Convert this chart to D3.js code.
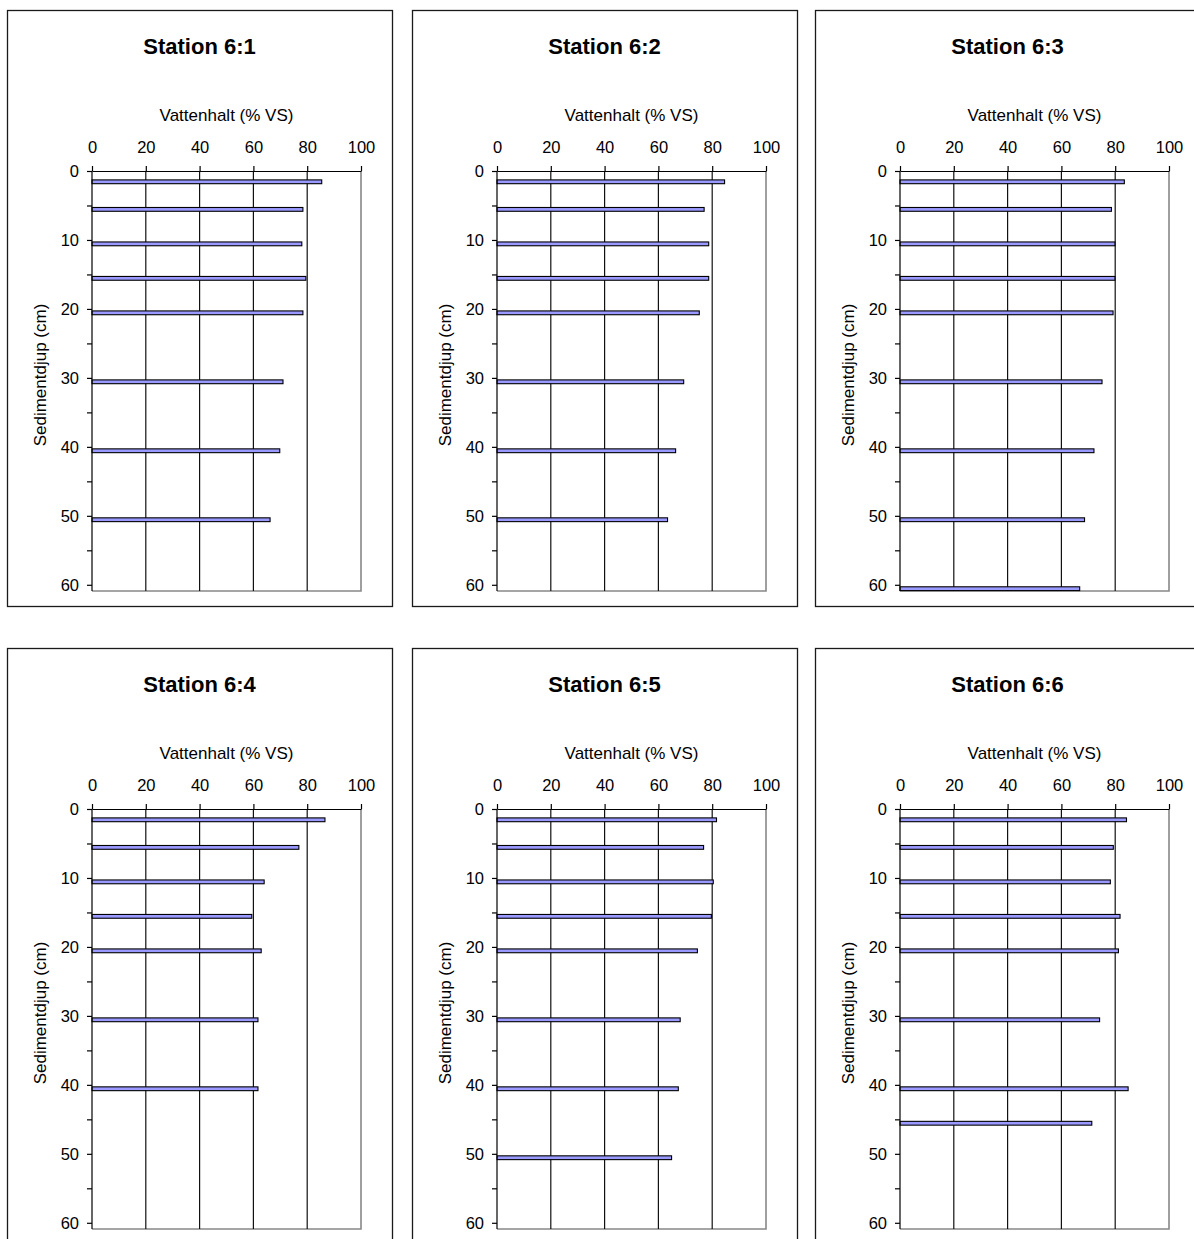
<!DOCTYPE html>
<html>
<head>
<meta charset="utf-8">
<script src="https://cdn.jsdelivr.net/npm/d3@7"></script>
<style>
  html, body { margin: 0; padding: 0; background: #fff; }
  svg { display: block; font-family: "Liberation Sans", Arial, sans-serif; }
</style>
</head>
<body>
<svg id="chart" width="1194" height="1239"></svg>
<script>
// Water content (% of wet weight) by sediment depth, six stations
const stationNames = ["Station 6:1", "Station 6:2", "Station 6:3",
                      "Station 6:4", "Station 6:5", "Station 6:6"];

const depths = [
  [1, 5, 10, 15, 20, 30, 40, 50],
  [1, 5, 10, 15, 20, 30, 40, 50],
  [1, 5, 10, 15, 20, 30, 40, 50, 60],
  [1, 5, 10, 15, 20, 30, 40],
  [1, 5, 10, 15, 20, 30, 40, 50],
  [1, 5, 10, 15, 20, 30, 40, 45]
];

const waterContent = [
  [85.4, 78.4, 78.0, 79.5, 78.4, 71.0, 69.8, 66.2],
  [84.6, 77.0, 78.7, 78.7, 75.2, 69.4, 66.4, 63.4],
  [83.4, 78.6, 79.9, 79.9, 79.2, 75.1, 72.1, 68.6, 66.8],
  [86.6, 76.9, 64.0, 59.4, 62.9, 61.7, 61.7],
  [81.6, 76.8, 80.4, 79.7, 74.5, 68.1, 67.4, 64.9],
  [84.2, 79.3, 78.2, 81.8, 81.2, 74.2, 84.8, 71.3]
];

const xTicks = [0, 20, 40, 60, 80, 100];
const yTicks = [0, 5, 10, 15, 20, 25, 30, 35, 40, 45, 50, 55, 60];
const xTitle = "Vattenhalt (% VS)";
const yTitle = "Sedimentdjup (cm)";

const svg = d3.select("#chart");
svg.append("rect").attr("width", 1194).attr("height", 1239).attr("fill", "#fff");

const colX = [7, 412, 815];
const rowY = [10, 648];
const frameW = 385, frameH = 596;
const plotOffX = 85, plotOffY = 161, plotW = 269, plotH = 420;
const depthMax = 60.9;

const x = d3.scaleLinear().domain([0, 100]).range([0, plotW]);
const y = d3.scaleLinear().domain([0, depthMax]).range([0, plotH]);

stationNames.forEach((name, i) => {
  const fx = colX[i % 3], fy = rowY[Math.floor(i / 3)];
  const g = svg.append("g");

  // outer chart frame
  g.append("rect")
    .attr("x", fx + 0.5).attr("y", fy + 0.5)
    .attr("width", frameW).attr("height", frameH)
    .attr("fill", "#fff").attr("stroke", "#1a1a1a").attr("stroke-width", 1.3);

  g.append("text")
    .attr("x", fx + frameW / 2).attr("y", fy + 44)
    .attr("text-anchor", "middle")
    .attr("font-size", 22).attr("font-weight", "bold").attr("fill", "#000")
    .text(name);

  const p = g.append("g").attr("transform", `translate(${fx + plotOffX},${fy + plotOffY})`);

  // plot area: grey right/bottom border
  p.append("path")
    .attr("d", `M${x(100)},0V${plotH}H0`)
    .attr("fill", "none").attr("stroke", "#888").attr("stroke-width", 1.6);

  // vertical gridlines
  p.selectAll("line.grid").data(xTicks.filter(t => t > 0 && t < 100)).join("line")
    .attr("class", "grid")
    .attr("x1", d => x(d)).attr("x2", d => x(d))
    .attr("y1", 0).attr("y2", plotH)
    .attr("stroke", "#111").attr("stroke-width", 1.2);

  // bars
  p.selectAll("rect.bar").data(depths[i].map((d, k) => ({ d, v: waterContent[i][k] })))
    .join("rect")
    .attr("class", "bar")
    .attr("x", 0).attr("y", d => y(d.d) + 2)
    .attr("width", d => x(d.v)).attr("height", 3.8)
    .attr("fill", "#9999ff").attr("stroke", "#000").attr("stroke-width", 1.1);

  // top value axis
  const xa = p.append("g").call(
    d3.axisTop(x).tickValues(xTicks).tickSize(5).tickSizeOuter(0).tickPadding(13)
  );
  // left depth axis
  const ya = p.append("g").call(
    d3.axisLeft(y).tickValues(yTicks).tickSize(5).tickSizeOuter(0).tickPadding(8)
      .tickFormat(d => d % 10 === 0 ? d : "")
  );
  ya.select(".domain").attr("d", `M0,0V${plotH}`);
  [xa, ya].forEach(a => {
    a.selectAll("path,line").attr("stroke", "#000").attr("stroke-width", 1.2);
    a.selectAll("text").attr("font-size", 16.5).attr("fill", "#000")
      .attr("font-family", "\"Liberation Sans\", Arial, sans-serif");
  });

  p.append("text")
    .attr("x", plotW / 2).attr("y", -50)
    .attr("text-anchor", "middle").attr("font-size", 17).attr("fill", "#000")
    .text(xTitle);

  p.append("text")
    .attr("transform", `translate(${-46},${plotH / 2 - 6}) rotate(-90)`)
    .attr("text-anchor", "middle").attr("font-size", 17).attr("fill", "#000")
    .text(yTitle);
});
</script>
</body>
</html>
